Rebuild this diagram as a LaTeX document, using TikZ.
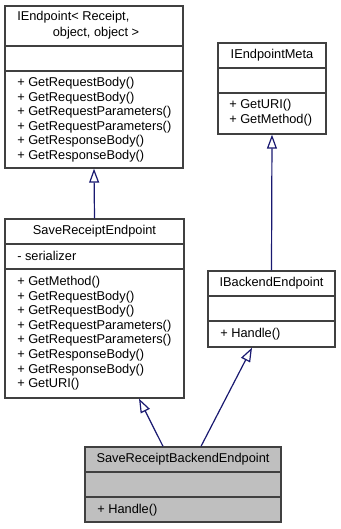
\documentclass[tikz,border=0pt]{standalone}
\usepackage{fontspec}
\setmainfont{Liberation Sans}
\usepackage{xcolor}
\usepackage{tikz}
\usetikzlibrary{positioning,arrows.meta,calc}
\definecolor{edgeblue}{HTML}{191970}
\definecolor{boxline}{HTML}{404040}
\definecolor{boxgray}{HTML}{BFBFBF}

\begin{document}
\begin{tikzpicture}[x=0.75pt,y=-0.75pt,>={Triangle[open,length=10.5pt,width=7.5pt]},
  every node/.style={font=\fontsize{9.6}{11}\selectfont,inner sep=0pt},
  cls/.style={draw=boxline,line width=1pt,fill=white},
  divider/.style={draw=boxline,line width=1pt},
  inh/.style={->,draw=edgeblue,line width=0.9pt}]
  \useasboundingbox (0,0) rectangle (341,529);
  % class boxes: name/left/top/right/bottom
  \foreach \n/\l/\t/\r/\b in {iep/5/6/183/168, iem/218/43/326/134, sre/5/219/184/398, ibe/208/271/335/347}
    \node[cls,minimum width={(\r-\l)*0.75pt},minimum height={(\b-\t)*0.75pt}] (\n) at ({(\l+\r)/2},{(\t+\b)/2}) {};
  \node[cls,fill=boxgray,minimum width={196*0.75pt},minimum height={75*0.75pt}] (srbe) at (183,484.5) {};
  \foreach \l/\r/\y in {5/183/46, 5/183/71, 218/326/68, 218/326/93, 5/184/244, 5/184/269,
                        208/335/296, 208/335/321, 85/281/472, 85/281/497}
    \draw[divider] (\l,\y) -- (\r,\y);

  % IEndpoint
  \node[anchor=mid west] (ieptitle) at (17,17) {IEndpoint< Receipt,};
  \node[anchor=mid] (ieptitleb) at (96,33) {object, object >};
  \foreach \m [count=\i from 0] in {GetRequestBody,GetRequestBody,GetRequestParameters,
                                    GetRequestParameters,GetResponseBody,GetResponseBody}
    \node[anchor=mid west] (iepop\i) at (17,{83+14.6*\i}) {+ \m()};

  % IEndpointMeta
  \node[anchor=mid] (iemtitle) at (272,55) {IEndpointMeta};
  \node[anchor=mid west] (iemopa) at (229,105) {+ GetURI()};
  \node[anchor=mid west] (iemopb) at (229,120) {+ GetMethod()};

  % SaveReceiptEndpoint
  \node[anchor=mid] (sretitle) at (94.5,231) {SaveReceiptEndpoint};
  \node[anchor=mid west] (sreattr) at (17,257) {- serializer};
  \foreach \m [count=\i from 0] in {GetMethod,GetRequestBody,GetRequestBody,GetRequestParameters,
                                    GetRequestParameters,GetResponseBody,GetResponseBody,GetURI}
    \node[anchor=mid west] (sreop\i) at (17,{282+14.6*\i}) {+ \m()};

  % IBackendEndpoint
  \node[anchor=mid] (ibetitle) at (271.5,283) {IBackendEndpoint};
  \node[anchor=mid west] (ibeop) at (220,334) {+ Handle()};

  % SaveReceiptBackendEndpoint
  \node[anchor=mid] (srbetitle) at (183,459) {SaveReceiptBackendEndpoint};
  \node[anchor=mid west] (srbeop) at (97,510) {+ Handle()};

  % inheritance
  \draw[inh] (sre.north) -- (iep.south);
  \draw[inh] (ibe.north) -- (iem.south);
  \draw[inh] ($(srbe.north)+(-20,0)$) -- ($(sre.south)+(44.5,0)$);
  \draw[inh] ($(srbe.north)+(18,0)$) -- ($(ibe.south)+(-19.5,0)$);
\end{tikzpicture}
\end{document}
